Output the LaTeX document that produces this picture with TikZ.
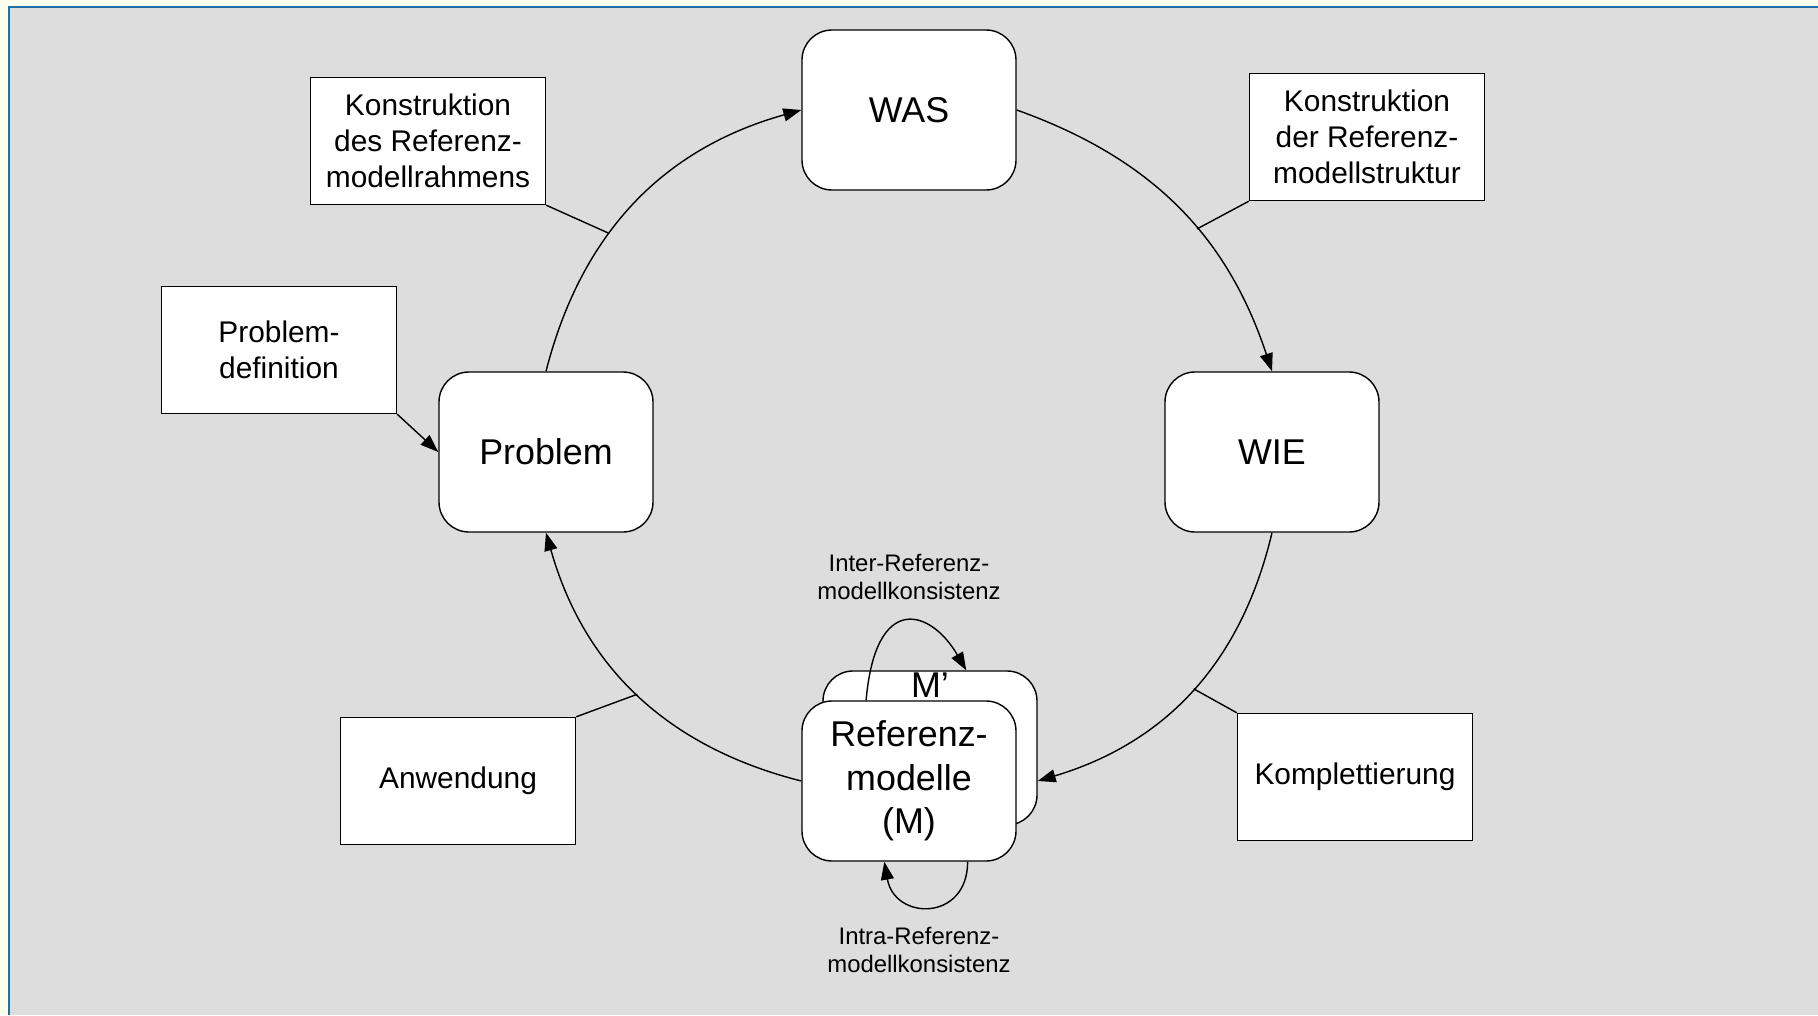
\documentclass[tikz,border=0pt]{standalone}
\usepackage{fontspec}
\setmainfont{Liberation Sans}
\usetikzlibrary{arrows.meta}
\definecolor{paneGray}{RGB}{221,221,221}
\definecolor{paneBlue}{RGB}{30,110,170}
\definecolor{outerCream}{RGB}{252,253,236}

\begin{document}
\begin{tikzpicture}[>={Triangle[length=0.18cm,width=0.13cm]}, line width=0.4pt]
        % Setup the styles for the boxes
        \tikzset{phase font/.style={font=\fontsize{10.2}{12.4}\selectfont},
                 phase style/.style={draw, phase font,
                                     rounded corners=0.3cm,
                                     minimum width=2.14cm,
                                     minimum height=1.60cm,
                                     align=center,
                                     fill=white},
                 step style/.style={draw, fill=white,
                                    minimum width=2.35cm,
                                    minimum height=1.27cm,
                                    inner sep=0pt, align=center,
                                    font=\fontsize{8.5}{10.2}\selectfont},
                 note style/.style={align=center,
                                    font=\fontsize{6.8}{8.2}\selectfont}}

        % Background
        \useasboundingbox (0,0) rectangle (18.18,10.15);
        \fill[outerCream] (0,0) rectangle (18.18,10.15);
        \fill[paneGray] (0.09,0) rectangle (18.18,10.08);
        \draw[paneBlue, line width=0.02cm] (0.09,0) -- (0.09,10.08) -- (18.18,10.08);

        % Draw the phases
        \node[phase style] at (9.09, 9.05) (was)  {WAS};
        \node[phase style] at (12.72, 5.63) (wie) {WIE};
        \node[phase style] at (5.46, 5.63) (prob) {Problem};
        \node[phase style, minimum height=1.54cm] at (9.30, 2.67) (mback) {};
        \node[phase font, anchor=north, inner sep=0pt] at ([yshift=-0.02cm]mback.north) (mprime) {M’};
        \node[phase style] at (9.09, 2.34) (mfront) {Referenz-\\modelle\\(M)};

        % Draw the steps
        \node[step style] at (4.28, 8.74) (rahmen)   {Konstruktion\\des Referenz-\\modellrahmens};
        \node[step style] at (13.67, 8.78) (struktur) {Konstruktion\\der Referenz-\\modellstruktur};
        \node[step style] at (2.79, 6.65) (pdef)     {Problem-\\definition};
        \node[step style] at (4.58, 2.34) (anw)      {Anwendung};
        \node[step style] at (13.55, 2.38) (kompl)   {Komplettierung};

        % Consistency notes
        \node[note style] at (9.09, 4.38) (inter) {Inter-Referenz-\\modellkonsistenz};
        \node[note style] at (9.19, 0.65) (intra) {Intra-Referenz-\\modellkonsistenz};

        % Connect the phases with arrows
        \draw[->] (prob.north) to[bend left=30] coordinate[pos=0.39] (c1) (was.west);
        \draw[->] (was.east) to[bend left=26] coordinate[pos=0.58] (c2) (wie.north);
        \draw[->] (wie.south) to[bend left=30] coordinate[pos=0.49] (c3) (mback.east |- mfront.center);
        \draw[->] (mfront.west) to[bend left=30] coordinate[pos=0.5] (c4) (prob.south);

        % Attach the steps
        \draw (rahmen.south east) -- (c1);
        \draw (struktur.south west) -- (c2);
        \draw (kompl.north west) -- (c3);
        \draw (anw.north east) -- (c4);
        \draw[->] (pdef.south east) -- (prob.west);

        % Consistency loops
        \draw[->] (mfront.118) .. controls +(85:1.1) and +(120:0.7) .. (mback.65);
        \draw[->] (mfront.-54) .. controls +(-90:0.6) and +(-80:0.6) .. (mfront.-107);
    \end{tikzpicture}
\end{document}
